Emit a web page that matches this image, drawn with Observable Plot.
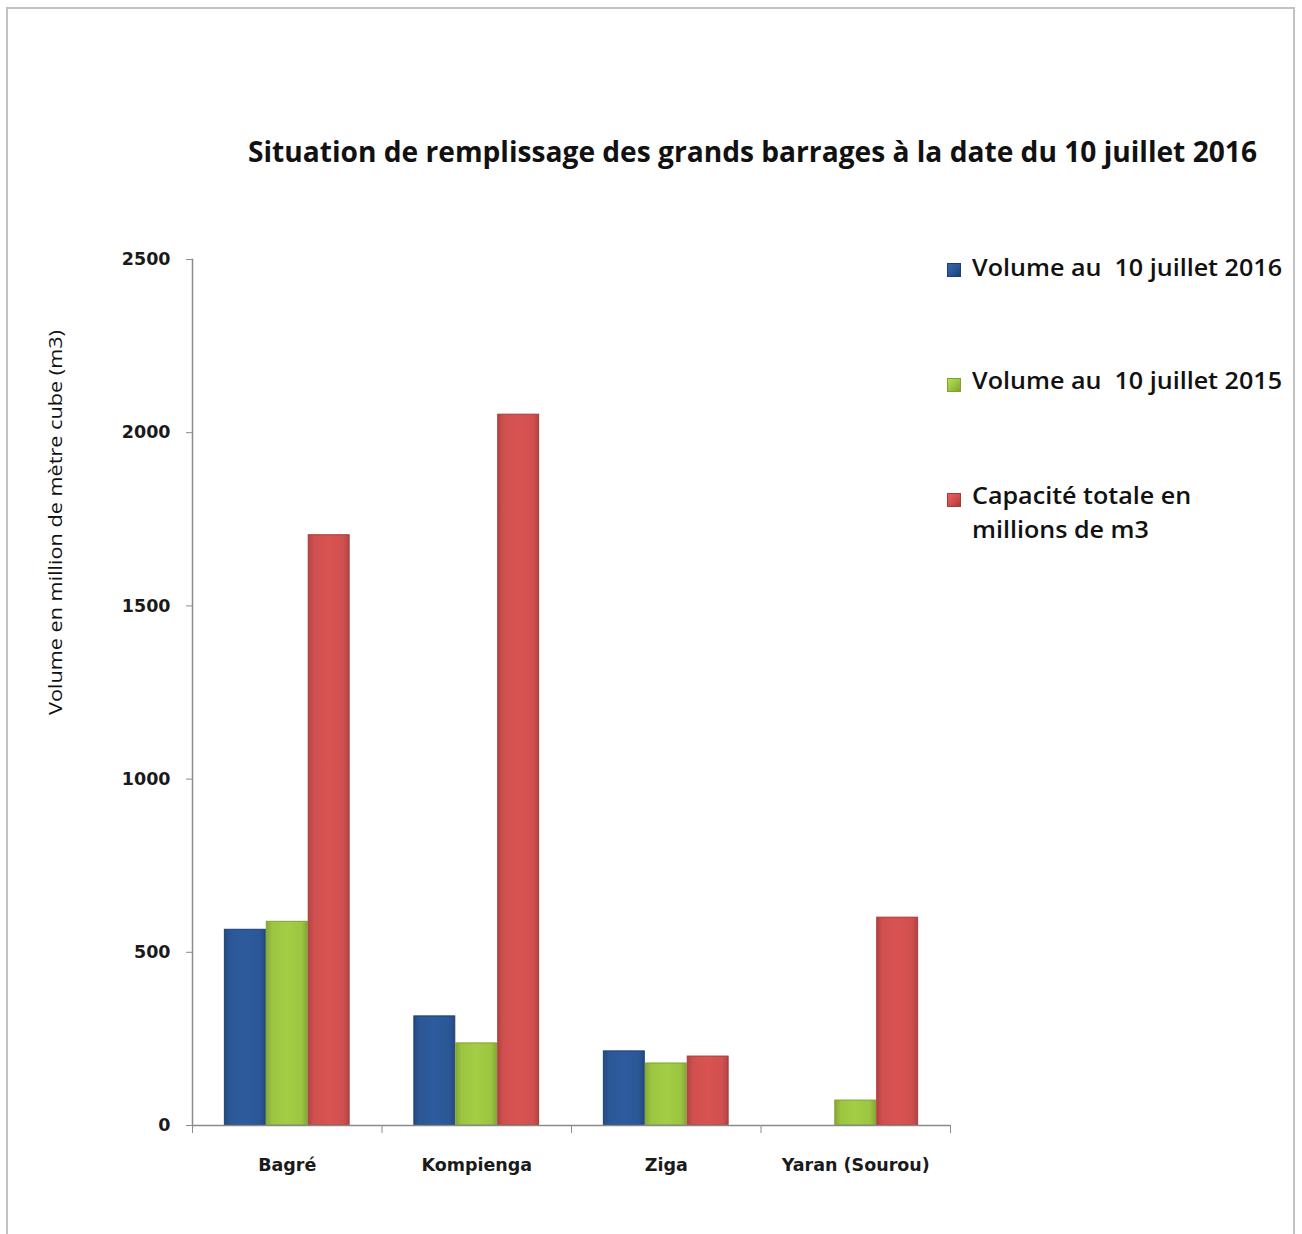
<!DOCTYPE html>
<html><head><meta charset="utf-8">
<script src="https://cdn.jsdelivr.net/npm/d3@7"></script>
<script src="https://cdn.jsdelivr.net/npm/@observablehq/plot@0.6"></script>
<style>
body{margin:0;background:#fff;}
#wrap{position:relative;width:1302px;height:1234px;overflow:hidden;font-family:"Open Sans",sans-serif;color:#111;background:#fff;}
#border{position:absolute;left:6px;top:7px;width:1285px;height:1260px;border:2px solid #c2c2c2;}
.fit{position:absolute;white-space:pre;transform-origin:0 0;line-height:1;}
#title{left:248px;top:137px;font-weight:700;font-size:28px;}
#ylabel{font-size:18px;}
#chart{position:absolute;left:0;top:200px;}
.sw{position:absolute;width:14px;height:14px;}
.lg{font-weight:600;font-size:23px;left:972px;}
</style></head>
<body><div id="wrap">
<div id="border"></div>
<div id="title" class="fit"></div>
<div id="ylabel" class="fit"></div>
<div id="chart"></div>
<div id="legend"></div>
</div>
<script>
const titleText = "Situation de remplissage des grands barrages à la date du 10 juillet 2016";
const yLabelText = "Volume en million de mètre cube (m3)";
const categories = ["Bagré", "Kompienga", "Ziga", "Yaran (Sourou)"];
const series = ["Volume au  10 juillet 2016", "Volume au  10 juillet 2015", "Capacité totale en millions de m3"];
const legendLines = [["Volume au  10 juillet 2016"], ["Volume au  10 juillet 2015"], ["Capacité totale en", "millions de m3"]];
const vol2016 = [565, 315, 214, null];
const vol2015 = [588, 237, 179, 72];
const capacity = [1704, 2052, 199, 600];
const yTicks = [0, 500, 1000, 1500, 2000, 2500];
const colors = ["#2b5796", "#9cc541", "#d0504f"];
const edgeColors = ["#1c3f73", "#7ea42c", "#a83b3a"];

const values = [vol2016, vol2015, capacity];
const data = [];
categories.forEach((c, i) => series.forEach((s, j) => {
  if (values[j][i] != null) data.push({cat: c, series: s, value: values[j][i]});
}));

const W = 1000, H = 1000, mL = 192, mR = 50, mT = 59, mB = 75;
const halfBand = (W - mL - mR) / categories.length / 2;
const tickFont = {fontFamily: "DejaVu Sans", fontSize: 17.5, fontWeight: "bold", fill: "#1a1a1a"};

const plot = Plot.plot({
  width: W, height: H,
  marginLeft: mL, marginRight: mR, marginTop: mT, marginBottom: mB,
  style: {background: "transparent", overflow: "visible"},
  fx: {domain: categories, padding: 0, round: false, label: null},
  x: {domain: series, paddingInner: 0, paddingOuter: 0.76, round: false, axis: null},
  y: {domain: [0, 2500], label: null},
  color: {domain: series, range: ["url(#g0)", "url(#g1)", "url(#g2)"]},
  marks: [
    Plot.barY(data, {fx: "cat", x: "series", y: "value", fill: "series",
      stroke: d => edgeColors[series.indexOf(d.series)], strokeWidth: 1, insetLeft: 0.5, insetRight: 0.5}),
    Plot.ruleY([0], {stroke: "#8a8a8a", strokeWidth: 1.5}),
    Plot.frame({anchor: "left", facetAnchor: "left", stroke: "#8a8a8a", strokeWidth: 1.5}),
    Plot.axisY({ticks: yTicks, tickFormat: d3.format("d"), tickSize: 6, tickPadding: 16, stroke: "#8a8a8a", label: null, ...tickFont}),
    Plot.axisFx({anchor: "bottom", tickSize: 0, tickPadding: 33, label: null, ...tickFont}),
    Plot.axisFx({anchor: "bottom", tickSize: 8, text: null, label: null, stroke: "#8a8a8a", dx: -halfBand}),
    Plot.axisFx({anchor: "bottom", ticks: [categories[categories.length - 1]], tickSize: 8, text: null, label: null, stroke: "#8a8a8a", dx: halfBand})
  ]
});

// gradients for the bevelled bars
const ns = "http://www.w3.org/2000/svg";
const defs = document.createElementNS(ns, "defs");
colors.forEach((c, i) => {
  const g = document.createElementNS(ns, "linearGradient");
  g.setAttribute("id", "g" + i);
  g.setAttribute("x1", "0"); g.setAttribute("x2", "1"); g.setAttribute("y1", "0"); g.setAttribute("y2", "0");
  const dark = d3.color(c).darker(0.45).formatHex();
  const light = d3.color(c).brighter(0.12).formatHex();
  [[0, dark], [0.14, c], [0.5, light], [0.86, c], [1, dark]].forEach(([o, col]) => {
    const s = document.createElementNS(ns, "stop");
    s.setAttribute("offset", o); s.setAttribute("stop-color", col);
    g.appendChild(s);
  });
  defs.appendChild(g);
});
plot.insertBefore(defs, plot.firstChild);
document.getElementById("chart").appendChild(plot);

function fit(el, target) {
  el.style.transform = "none";
  const w = el.getBoundingClientRect().width;
  el.style.transform = `scaleX(${target / w})`;
  return target / w;
}

const title = document.getElementById("title");
title.textContent = titleText;
fit(title, 1009);

const yl = document.getElementById("ylabel");
yl.textContent = yLabelText;
yl.style.transform = "none";
const ylw = yl.getBoundingClientRect().width, ylh = yl.getBoundingClientRect().height;
const ys = 385 / ylw;
yl.style.left = (55 - ylh / 2) + "px";
yl.style.top = (522 + 385 / 2) + "px";
yl.style.transform = `rotate(-90deg) scaleX(${ys})`;

// legend
const legend = document.getElementById("legend");
const swTops = [263, 378, 493];
const lineTops = [[256], [369], [484, 518]];
let scale = null;
legendLines.forEach((lines, i) => {
  const sw = document.createElement("div");
  sw.className = "sw";
  sw.style.left = "947px"; sw.style.top = swTops[i] + "px";
  sw.style.background = `linear-gradient(135deg, ${d3.color(colors[i]).brighter(0.4)}, ${colors[i]} 50%, ${edgeColors[i]})`;
  sw.style.border = `1px solid ${edgeColors[i]}`;
  sw.style.boxSizing = "border-box";
  legend.appendChild(sw);
  lines.forEach((t, k) => {
    const d = document.createElement("div");
    d.className = "fit lg";
    d.textContent = t;
    d.style.top = lineTops[i][k] + "px";
    legend.appendChild(d);
    if (scale === null) scale = fit(d, 310);
    else d.style.transform = `scaleX(${scale})`;
  });
});
</script>
</body></html>
